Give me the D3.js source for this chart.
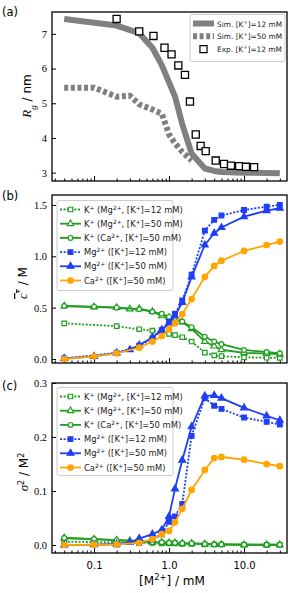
<!DOCTYPE html>
<meta charset="utf-8">
<style>
    body { margin: 0; background: #fff; }
    svg { display: block; font-family: "DejaVu Sans", sans-serif; }
    .frame { fill: none; stroke: #000; stroke-width: 1.3px; }
    .tick line { stroke: #000; }
    .ylab text { font-family: "Liberation Serif", serif; font-size: 10.5px; }
</style>
<script src="https://cdn.jsdelivr.net/npm/d3@7"></script>
<svg width="296" height="593"></svg>
<script>

    // ---- panel (a): radius of gyration
    var xSim12 = [0.04, 0.2, 0.4, 0.6, 0.8, 1.0, 1.2, 1.5, 2.0, 3.0, 4.0, 5.0, 10, 20, 30];
    var rgSim12 = [7.43, 7.24, 7.02, 6.6, 6.1, 5.6, 5.2, 4.4, 3.55, 3.12, 3.05, 3.02, 3.0, 2.99, 2.98];
    var xSim50 = [0.04, 0.1, 0.2, 0.3, 0.4, 0.6, 0.8, 1.0, 1.2, 1.5, 2.0];
    var rgSim50 = [5.45, 5.45, 5.19, 5.22, 4.97, 4.82, 4.7, 4.1, 3.85, 3.6, 3.35];
    var xExp = [0.2, 0.4, 0.62, 0.87, 1.08, 1.33, 1.63, 1.9, 2.27, 2.64, 3.08, 4.19, 5.41, 6.7, 8.6, 10.6, 13.6];
    var rgExp = [7.43, 7.07, 6.94, 6.6, 6.41, 6.09, 5.82, 5.05, 4.1, 3.77, 3.62, 3.35, 3.25, 3.2, 3.19, 3.17, 3.16];
    var legendA = ["Sim. [K^{+}]=12 mM", "Sim. [K^{+}]=50 mM", "Exp. [K^{+}]=12 mM"];

    // ---- panels (b), (c): ion concentrations
    var xMg12 = [0.04, 0.2, 0.4, 0.6, 0.8, 1.0, 1.2, 1.5, 2.0, 3.0, 4.0, 5.0, 10, 20, 30];
    var xMg50 = [0.04, 0.1, 0.2, 0.3, 0.4, 0.6, 0.8, 1.0, 1.2, 1.5, 2.0, 3.0, 4.0, 5.0, 10, 20, 30];
    var xCa50 = [0.04, 0.1, 0.2, 0.4, 0.6, 0.8, 1.0, 1.2, 1.5, 2.0, 3.0, 4.0, 5.0, 10, 20, 30];

    var cK_Mg12 = [0.347, 0.32, 0.29, 0.276, 0.26, 0.245, 0.232, 0.212, 0.17, 0.062, 0.035, 0.028, 0.016, 0.012, 0.01];
    var cK_Mg50 = [0.515, 0.506, 0.5, 0.487, 0.49, 0.462, 0.42, 0.405, 0.39, 0.36, 0.295, 0.17, 0.125, 0.09, 0.06, 0.052, 0.047];
    var cK_Ca50 = [0.516, 0.51, 0.5, 0.485, 0.46, 0.44, 0.41, 0.40, 0.365, 0.31, 0.217, 0.17, 0.145, 0.088, 0.068, 0.055];
    var cMg12 = [0.005, 0.06, 0.13, 0.2, 0.28, 0.36, 0.44, 0.57, 0.82, 1.25, 1.355, 1.397, 1.451, 1.483, 1.5];
    var cMg50 = [0.005, 0.025, 0.06, 0.09, 0.135, 0.21, 0.285, 0.35, 0.42, 0.55, 0.80, 1.11, 1.224, 1.28, 1.386, 1.444, 1.468];
    var cCa50 = [0.0, 0.026, 0.055, 0.11, 0.17, 0.224, 0.29, 0.347, 0.438, 0.584, 0.8, 0.906, 0.957, 1.052, 1.11, 1.143];

    var sK_Mg12 = [0.006, 0.005, 0.004, 0.004, 0.003, 0.003, 0.003, 0.002, 0.002, 0.001, 0.001, 0.001, 0.0005, 0.0003, 0.0003];
    var sK_Mg50 = [0.013, 0.011, 0.009, 0.008, 0.007, 0.005, 0.005, 0.004, 0.004, 0.003, 0.003, 0.002, 0.001, 0.001, 0.0005, 0.0005, 0.0005];
    var sK_Ca50 = [0.013, 0.011, 0.009, 0.007, 0.005, 0.005, 0.004, 0.004, 0.003, 0.003, 0.002, 0.001, 0.001, 0.0005, 0.0005, 0.0005];
    var sMg12 = [0.0, 0.001, 0.004, 0.01, 0.02, 0.043, 0.053, 0.076, 0.202, 0.272, 0.258, 0.252, 0.236, 0.228, 0.223];
    var sMg50 = [0.0, 0.0005, 0.002, 0.005, 0.012, 0.02, 0.028, 0.053, 0.104, 0.157, 0.219, 0.276, 0.277, 0.272, 0.254, 0.239, 0.231];
    var sCa50 = [0.0, 0.0005, 0.001, 0.004, 0.011, 0.02, 0.026, 0.042, 0.067, 0.102, 0.139, 0.161, 0.163, 0.158, 0.15, 0.146];

    var ionLabels = ["K^{+} (Mg^{2+}, [K^{+}]=12 mM)", "K^{+} (Mg^{2+}, [K^{+}]=50 mM)",
        "K^{+} (Ca^{2+}, [K^{+}]=50 mM)", "Mg^{2+} ([K^{+}]=12 mM)", "Mg^{2+} ([K^{+}]=50 mM)",
        "Ca^{2+} ([K^{+}]=50 mM)"];

    var yTicksA = [3, 4, 5, 6, 7];
    var yTicksB = [0.0, 0.5, 1.0, 1.5];
    var yTicksC = [0.0, 0.1, 0.2, 0.3];
    var xMajor = [0.1, 1, 10];
    var xLabels = ["0.1", "1.0", "10.0"];

    var svg = d3.select("svg");
    var left = 52, right = 287;
    var green = "#1f9e1f", blue = "#1f3ef5", orange = "#ffa500", grey = "#808080";

    var x = d3.scaleLog().domain([0.0275, 37.4]).range([left, right]);

    var xMinor = [];
    [0.01, 0.1, 1, 10].forEach(function (d) {
        for (var k = 2; k <= 9; k++) {
            var v = d * k;
            if (v > 0.0275 && v < 37.4) xMinor.push(v);
        }
    });

    function richText(t, str) {
        var re = /\^\{([^}]*)\}/g, last = 0, m;
        while ((m = re.exec(str))) {
            if (m.index > last) t.append("tspan").text(str.slice(last, m.index));
            t.append("tspan").attr("baseline-shift", "super").attr("font-size", "70%").text(m[1]);
            last = re.lastIndex;
        }
        if (last < str.length) t.append("tspan").text(str.slice(last));
    }

    function panel(top, bottom, ydom, yticks, yfmt, showX) {
        var y = d3.scaleLinear().domain(ydom).range([bottom, top]);
        var g = svg.append("g");

        var ya = g.append("g").attr("class", "ylab")
            .attr("transform", "translate(" + left + ",0)")
            .call(d3.axisLeft(y).tickValues(yticks).tickSize(-4).tickPadding(5).tickFormat(yfmt));
        ya.select(".domain").remove();

        var xa = g.append("g")
            .attr("transform", "translate(0," + bottom + ")")
            .call(d3.axisBottom(x).tickValues(xMajor).tickSize(-5).tickPadding(9)
                .tickFormat(function (d, i) { return showX ? xLabels[i] : ""; }));
        xa.select(".domain").remove();
        xa.selectAll("text").attr("font-size", "10px").attr("font-family", "DejaVu Sans, sans-serif");

        var xm = g.append("g")
            .attr("transform", "translate(0," + bottom + ")")
            .call(d3.axisBottom(x).tickValues(xMinor).tickSize(-2.5).tickFormat(""));
        xm.select(".domain").remove();

        g.append("rect").attr("class", "frame")
            .attr("x", left).attr("y", top)
            .attr("width", right - left).attr("height", bottom - top);
        return {g: g, y: y};
    }

    function series(p, xs, ys, st) {
        var pts = xs.map(function (d, i) { return [d, ys[i]]; });
        var line = d3.line().x(function (d) { return x(d[0]); }).y(function (d) { return p.y(d[1]); });
        p.g.append("path").datum(pts)
            .attr("d", line)
            .attr("fill", "none")
            .attr("stroke", st.color)
            .attr("stroke-width", st.width || 1.8)
            .attr("stroke-dasharray", st.dash || null)
            .attr("stroke-linejoin", "round");
        if (st.symbol) {
            p.g.append("g").selectAll("path").data(pts).enter().append("path")
                .attr("transform", function (d) { return "translate(" + x(d[0]) + "," + p.y(d[1]) + ")"; })
                .attr("d", d3.symbol().type(st.symbol).size(st.size))
                .attr("fill", st.open ? "#fff" : st.color)
                .attr("stroke", st.color)
                .attr("stroke-width", 1.2);
        }
    }

    function legend(x0, y0, w, h, labels, styles, step, textSize, textOff) {
        var lg = svg.append("g");
        lg.append("rect").attr("x", x0).attr("y", y0).attr("width", w).attr("height", h)
            .attr("rx", 2).attr("fill", "#fff").attr("fill-opacity", 0.85)
            .attr("stroke", "#cccccc").attr("stroke-width", 1);
        labels.forEach(function (lab, i) {
            var st = styles[i];
            var yy = y0 + 9 + i * step;
            if (st.width) {
                lg.append("line").attr("x1", x0 + 3).attr("x2", x0 + 24).attr("y1", yy).attr("y2", yy)
                    .attr("stroke", st.color).attr("stroke-width", st.width)
                    .attr("stroke-dasharray", st.dash || null);
            }
            if (st.symbol) {
                lg.append("path").attr("transform", "translate(" + (x0 + 13.5) + "," + yy + ")")
                    .attr("d", d3.symbol().type(st.symbol).size(st.size))
                    .attr("fill", st.open ? "#fff" : st.color)
                    .attr("stroke", st.color).attr("stroke-width", 1.2);
            }
            var t = lg.append("text").attr("x", x0 + textOff).attr("y", yy + 3)
                .attr("font-size", textSize).attr("fill", "#222");
            richText(t, lab);
        });
    }

    function ylabel(cx, cy, build) {
        var t = svg.append("text")
            .attr("transform", "translate(" + cx + "," + cy + ") rotate(-90)")
            .attr("text-anchor", "middle").attr("font-size", "12px");
        build(t);
    }

    // ---- (a)
    var pa = panel(12, 181, [2.76, 7.63], yTicksA, d3.format("d"), false);
    var stA = [
        {color: grey, width: 6},
        {color: grey, width: 6, dash: "4,2.6"},
        {color: "#000", symbol: d3.symbolSquare, size: 50, open: true}
    ];
    series(pa, xSim12, rgSim12, stA[0]);
    series(pa, xSim50, rgSim50, stA[1]);
    var expPts = xExp.map(function (d, i) { return [d, rgExp[i]]; });
    pa.g.append("g").selectAll("path").data(expPts).enter().append("path")
        .attr("transform", function (d) { return "translate(" + x(d[0]) + "," + pa.y(d[1]) + ")"; })
        .attr("d", d3.symbol().type(d3.symbolSquare).size(50))
        .attr("fill", "#fff").attr("stroke", "#000").attr("stroke-width", 1.3);
    legend(190, 14.5, 95, 47, legendA, [stA[0], stA[1], {color: "#000", symbol: d3.symbolSquare, size: 50, open: true}], 12.8, "7.4px", 27);

    // ---- styles for (b), (c)
    var stIon = [
        {color: green, dash: "2,1.6", symbol: d3.symbolSquare, size: 20, open: true},
        {color: green, symbol: d3.symbolTriangle, size: 18, open: true},
        {color: green, symbol: d3.symbolCircle, size: 18, open: true},
        {color: blue, dash: "2,1.6", symbol: d3.symbolSquare, size: 22},
        {color: blue, symbol: d3.symbolTriangle, size: 20},
        {color: orange, symbol: d3.symbolCircle, size: 24}
    ];

    // ---- (b)
    var pb = panel(195, 363, [-0.039, 1.597], yTicksB, d3.format(".1f"), false);
    series(pb, xMg12, cK_Mg12, stIon[0]);
    series(pb, xMg50, cK_Mg50, stIon[1]);
    series(pb, xCa50, cK_Ca50, stIon[2]);
    series(pb, xMg12, cMg12, stIon[3]);
    series(pb, xMg50, cMg50, stIon[4]);
    series(pb, xCa50, cCa50, stIon[5]);
    legend(57, 200.5, 116, 90, ionLabels, stIon.map(function (s) { return Object.assign({width: 1.8}, s); }), 14.2, "8.4px", 27);

    // ---- (c)
    var pc = panel(383, 553, [-0.0148, 0.3], yTicksC, d3.format(".1f"), true);
    series(pc, xMg12, sK_Mg12, stIon[0]);
    series(pc, xMg50, sK_Mg50, stIon[1]);
    series(pc, xCa50, sK_Ca50, stIon[2]);
    series(pc, xMg12, sMg12, stIon[3]);
    series(pc, xMg50, sMg50, stIon[4]);
    series(pc, xCa50, sCa50, stIon[5]);
    legend(57, 387.5, 116, 88, ionLabels, stIon.map(function (s) { return Object.assign({width: 1.8}, s); }), 14.2, "8.4px", 27);

    // ---- axis titles
    ylabel(31, 96, function (t) {
        t.append("tspan").attr("font-family", "Liberation Serif, serif").attr("font-style", "italic").attr("font-size", "13px").text("R");
        t.append("tspan").attr("font-family", "Liberation Serif, serif").attr("font-style", "italic").attr("font-size", "9px").attr("baseline-shift", "sub").text("g");
        t.append("tspan").text(" / nm");
    });
    ylabel(27, 283, function (t) {
        t.append("tspan").attr("font-family", "Liberation Serif, serif").attr("font-style", "italic").attr("font-size", "13px")
            .style("text-decoration", "overline").text("c");
        t.append("tspan").attr("font-size", "8px").attr("baseline-shift", "super").style("text-decoration", "overline").text("*");
        t.append("tspan").text(" / M");
    });
    ylabel(28, 472, function (t) {
        t.append("tspan").attr("font-family", "Liberation Serif, serif").attr("font-style", "italic").attr("font-size", "13px").text("σ");
        t.append("tspan").attr("font-size", "8px").attr("baseline-shift", "super").text("2");
        t.append("tspan").text(" / M");
        t.append("tspan").attr("font-size", "8px").attr("baseline-shift", "super").text("2");
    });

    var xl = svg.append("text").attr("x", 172).attr("y", 585).attr("text-anchor", "middle").attr("font-size", "12px");
    richText(xl, "[M^{2+}] / mM");

    [["(a)", 16], ["(b)", 200], ["(c)", 390]].forEach(function (d) {
        svg.append("text").attr("x", 2).attr("y", d[1]).attr("font-size", "11.5px").text(d[0]);
    });
</script>
